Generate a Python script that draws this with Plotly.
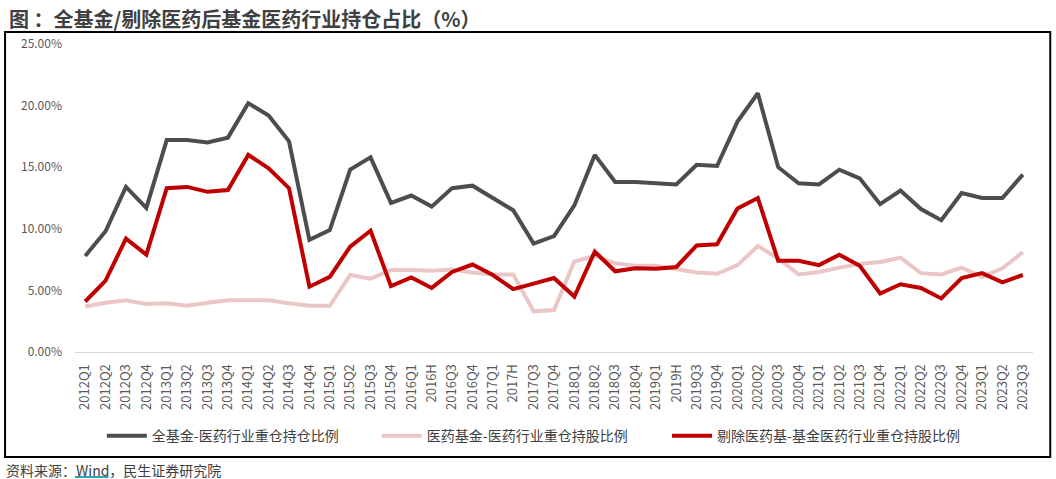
import plotly.graph_objects as go

# 报告期
periods = [
    "2012Q1", "2012Q2", "2012Q3", "2012Q4", "2013Q1", "2013Q2", "2013Q3", "2013Q4",
    "2014Q1", "2014Q2", "2014Q3", "2014Q4", "2015Q1", "2015Q2", "2015Q3", "2015Q4",
    "2016Q1", "2016H", "2016Q3", "2016Q4", "2017Q1", "2017H", "2017Q3", "2017Q4",
    "2018Q1", "2018Q2", "2018Q3", "2018Q4", "2019Q1", "2019H", "2019Q3", "2019Q4",
    "2020Q1", "2020Q2", "2020Q3", "2020Q4", "2021Q1", "2021Q2", "2021Q3", "2021Q4",
    "2022Q1", "2022Q2", "2022Q3", "2022Q4", "2023Q1", "2023Q2", "2023Q3",
]

# 全基金-医药行业重仓持仓比例 (%)
all_funds = [
    7.8, 9.8, 13.4, 11.7, 17.2, 17.2, 17.0, 17.4,
    20.2, 19.2, 17.1, 9.1, 9.9, 14.8, 15.8, 12.1,
    12.7, 11.8, 13.3, 13.5, 12.5, 11.5, 8.8, 9.4,
    11.9, 16.0, 13.8, 13.8, 13.7, 13.6, 15.2, 15.1,
    18.7, 21.0, 15.0, 13.7, 13.6, 14.8, 14.1, 12.0,
    13.1, 11.6, 10.7, 12.9, 12.5, 12.5, 14.4,
]

# 医药基金-医药行业重仓持股比例 (%)
pharma_funds = [
    3.7, 4.0, 4.2, 3.9, 3.95, 3.75, 4.0, 4.2,
    4.2, 4.2, 3.95, 3.75, 3.75, 6.25, 5.95, 6.65,
    6.65, 6.6, 6.7, 6.45, 6.3, 6.3, 3.3, 3.4,
    7.35, 7.8, 7.2, 7.0, 7.0, 6.75, 6.45, 6.35,
    7.05, 8.6, 7.6, 6.3, 6.5, 6.85, 7.15, 7.3,
    7.65, 6.4, 6.3, 6.85, 6.1, 6.8, 8.1,
]

# 剔除医药基-基金医药行业重仓持股比例 (%)
ex_pharma = [
    4.1, 5.8, 9.2, 7.9, 13.3, 13.4, 13.0, 13.15,
    16.0, 14.9, 13.3, 5.3, 6.1, 8.55, 9.85, 5.35,
    6.05, 5.2, 6.5, 7.1, 6.25, 5.1, 5.55, 6.0,
    4.5, 8.15, 6.55, 6.8, 6.75, 6.9, 8.65, 8.75,
    11.65, 12.5, 7.4, 7.4, 7.05, 7.9, 7.0, 4.75,
    5.5, 5.2, 4.35, 6.0, 6.4, 5.65, 6.25,
]

series = [
    ("全基金-医药行业重仓持仓比例", all_funds, "#4d4d4d"),
    ("医药基金-医药行业重仓持股比例", pharma_funds, "#ebc6c6"),
    ("剔除医药基-基金医药行业重仓持股比例", ex_pharma, "#c00000"),
]

font_cn = "Noto Sans CJK SC"

# one legend per series so each entry can sit where the original has it
legend_ids = ["legend", "legend2", "legend3"]
legend_x = [0.028, 0.315, 0.618]

fig = go.Figure()
for (name, vals, color), lg in zip(series, legend_ids):
    fig.add_trace(go.Scatter(
        x=periods,
        y=[v / 100 for v in vals],
        mode="lines",
        name=name,
        legend=lg,
        line=dict(color=color, width=4),
    ))

legend_style = dict(
    orientation="h",
    xanchor="left",
    y=-0.273, yanchor="middle",
    font=dict(size=14, color="#404040"),
    itemwidth=40,
    bgcolor="rgba(0,0,0,0)",
)

fig.update_layout(
    width=1056,
    height=479,
    margin=dict(l=75, r=23, t=44, b=127),
    paper_bgcolor="white",
    plot_bgcolor="white",
    font=dict(family=font_cn, color="#595959", size=12),
    showlegend=True,
    xaxis=dict(
        type="category",
        tickangle=-90,
        range=[-0.5, len(periods) - 0.5],
        showgrid=False,
        showline=True,
        linecolor="#d9d9d9",
        linewidth=1,
        ticks="",
        ticklabelstandoff=6,
        tickfont=dict(size=13, color="#595959"),
    ),
    yaxis=dict(
        range=[0, 0.25],
        dtick=0.05,
        tickformat=".2%",
        showgrid=False,
        zeroline=False,
        showline=False,
        ticks="",
        ticklabelstandoff=12,
        tickfont=dict(size=12, color="#595959"),
    ),
    shapes=[
        # black frame round the chart
        dict(type="rect", xref="paper", yref="paper",
             x0=-0.073, x1=1.018, y0=-0.341, y1=1.039,
             line=dict(color="black", width=2), fillcolor="rgba(0,0,0,0)",
             layer="below"),
        # underline under "Wind"
        dict(type="line", xref="paper", yref="paper",
             x0=0.0, x1=0.035, y0=-0.406, y1=-0.406,
             line=dict(color="#2fa4b5", width=2)),
    ],
    annotations=[
        dict(text="<b>图\u00a0：全基金/剔除医药后基金医药行业持仓占比（%）</b>",
             xref="paper", yref="paper", x=-0.071, y=1.084,
             xanchor="left", yanchor="middle", showarrow=False,
             font=dict(size=20, color="#404040", family=font_cn)),
        dict(text="资料来源：Wind，民生证券研究院",
             xref="paper", yref="paper", x=-0.074, y=-0.383,
             xanchor="left", yanchor="middle", showarrow=False,
             font=dict(size=14, color="#404040", family=font_cn)),
    ],
)
for lg, lx in zip(legend_ids, legend_x):
    fig.update_layout({lg: dict(legend_style, x=lx)})

# drop the default 8px body margin so the figure sits at the page corner
fig.write_html("out.html", config={"displayModeBar": False},
               post_script="document.body.style.margin='0px';")
